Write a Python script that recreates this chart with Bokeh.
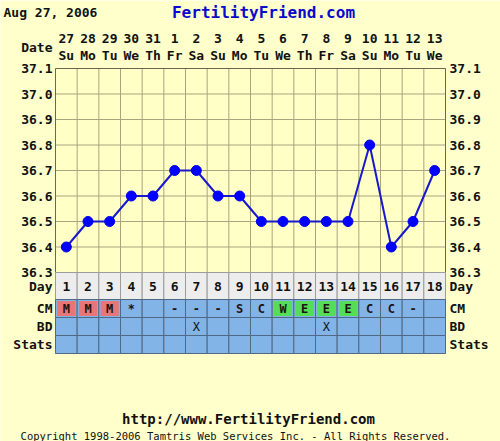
from bokeh.plotting import figure
from bokeh.models import Range1d
from bokeh.core.properties import value
from bokeh.embed import file_html
from bokeh.resources import INLINE

# ---------------- data ----------------
days = list(range(1, 19))
dates = ["27", "28", "29", "30", "31", "1", "2", "3", "4", "5", "6", "7", "8", "9", "10", "11", "12", "13"]
weekdays = ["Su", "Mo", "Tu", "We", "Th", "Fr", "Sa", "Su", "Mo", "Tu", "We", "Th", "Fr", "Sa", "Su", "Mo", "Tu", "We"]
temps = [36.4, 36.5, 36.5, 36.6, 36.6, 36.7, 36.7, 36.6, 36.6, 36.5, 36.5, 36.5, 36.5, 36.5, 36.8, 36.4, 36.5, 36.7]
cm = ["M", "M", "M", "*", "", "-", "-", "-", "S", "C", "W", "E", "E", "E", "C", "C", "-", ""]
bd = ["", "", "", "", "", "", "X", "", "", "", "", "", "X", "", "", "", "", ""]
temp_ticks = [36.3, 36.4, 36.5, 36.6, 36.7, 36.8, 36.9, 37.0, 37.1]
temp_labels = ["36.3", "36.4", "36.5", "36.6", "36.7", "36.8", "36.9", "37.0", "37.1"]
row_names = ["Day", "CM", "BD", "Stats"]
chart_date = "Aug 27, 2006"
site = "FertilityFriend.com"
url = "http://www.FertilityFriend.com"
copyright_text = "Copyright 1998-2006 Tamtris Web Services Inc. - All Rights Reserved."

# ---------------- layout / style ----------------
W, H = 500, 441
FONT = "DejaVu Sans Mono"
BG = "#FFFFCC"
PLOT_BG = "#FFFFC6"
GRID = "#ABA37F"
BORDER = "#6E6650"
TXT = "#111111"
T_MIN, T_MAX = 36.3, 37.1
# screen geometry of the plot area (pixels)
PX_LEFT, PX_RIGHT = 55, 445      # columns 0.5 .. 18.5
PX_TTOP, PX_TBOT = 68, 272       # 37.1 .. 36.3
XS = (PX_RIGHT - PX_LEFT) / 18.0
YS = (PX_TBOT - PX_TTOP) / (T_MAX - T_MIN)


def px_x(px):
    return 0.5 + (px - PX_LEFT) / XS


def px_y(py):
    return T_MAX - (py - PX_TTOP) / YS


ROW_PX = [272, 299, 317, 335, 353]          # Day, CM, BD, Stats row edges
ROW_EDGES = [px_y(v) for v in ROW_PX]
ROW_MID = [(ROW_EDGES[i] + ROW_EDGES[i + 1]) / 2 for i in range(4)]

p = figure(width=W, height=H,
           x_range=Range1d(px_x(0), px_x(W)), y_range=Range1d(px_y(H), px_y(0)),
           x_axis_type=None, y_axis_type=None,
           toolbar_location=None, output_backend="svg", min_border=0,
           background_fill_color=BG, border_fill_color=BG,
           outline_line_color=None)


def txt(xs, ys, texts, size="13px", align="center", style="bold", color=TXT):
    p.text(x=xs, y=ys, text=texts, text_align=align, text_baseline="middle",
           text_font=value(FONT), text_font_style=style, text_font_size=size,
           text_color=color)


# plot area
p.quad(left=[0.5], right=[18.5], top=[T_MAX], bottom=[T_MIN],
       fill_color=PLOT_BG, line_color=None)
vx = [d + 0.5 for d in days[:-1]]
p.segment(x0=vx, x1=vx, y0=[T_MIN] * len(vx), y1=[T_MAX] * len(vx),
          line_color=GRID, line_width=1)
hy = temp_ticks[1:-1]
p.segment(x0=[0.5] * len(hy), x1=[18.5] * len(hy), y0=hy, y1=hy,
          line_color=GRID, line_width=1)
p.quad(left=[0.5], right=[18.5], top=[T_MAX], bottom=[T_MIN],
       fill_color=None, line_color=BORDER, line_width=1)

# temperature line
p.line(days, temps, line_color="#1818CC", line_width=2)
p.scatter(days, temps, size=10, fill_color="#0000FF", line_color="#0000EE")

# temperature scale labels (both sides) and row names
n_t = len(temp_ticks)
txt([px_x(52)] * n_t, temp_ticks, temp_labels, align="right")
txt([px_x(449)] * n_t, temp_ticks, temp_labels, align="left")
txt([px_x(52)] * 4, ROW_MID, row_names, align="right")
txt([px_x(449)] * 4, ROW_MID, row_names, align="left")
txt([px_x(52)], [px_y(47)], ["Date"], align="right")

# header
txt(days, [px_y(38)] * 18, dates)
txt(days, [px_y(55)] * 18, weekdays)

# table
lefts = [d - 0.5 for d in days]
rights = [d + 0.5 for d in days]
p.quad(left=lefts, right=rights, top=[ROW_EDGES[0]] * 18, bottom=[ROW_EDGES[1]] * 18,
       fill_color="#EDEDED", line_color="#9C9C9C")
for r in range(1, 4):
    p.quad(left=lefts, right=rights, top=[ROW_EDGES[r]] * 18, bottom=[ROW_EDGES[r + 1]] * 18,
           fill_color="#82B4E8", line_color="#4F6884")

cm_colors = {"M": "#E77676", "W": "#55DD55", "E": "#55DD55"}
cx = [d for d, c in zip(days, cm) if c in cm_colors]
cc = [cm_colors[c] for c in cm if c in cm_colors]
p.quad(left=[x - 0.42 for x in cx], right=[x + 0.42 for x in cx],
       top=[px_y(ROW_PX[1] + 1.5)] * len(cx), bottom=[px_y(ROW_PX[2] - 1.5)] * len(cx),
       fill_color=cc, line_color=None)

txt(days, [ROW_MID[0]] * 18, [str(d) for d in days])
txt(days, [ROW_MID[1]] * 18, cm, size="12px", color="#221111")
txt(days, [ROW_MID[2]] * 18, bd, size="12px", style="normal")

# titles & footer
txt([px_x(3)], [px_y(12)], [chart_date], align="left")
txt([px_x(263)], [px_y(12)], [site], size="16px", color="#0A0ACC")
txt([px_x(248)], [px_y(418)], [url], size="14px")
txt([px_x(235)], [px_y(435)], [copyright_text], size="10.5px", style="normal")

open("out.html", "w").write(file_html(p, INLINE))
